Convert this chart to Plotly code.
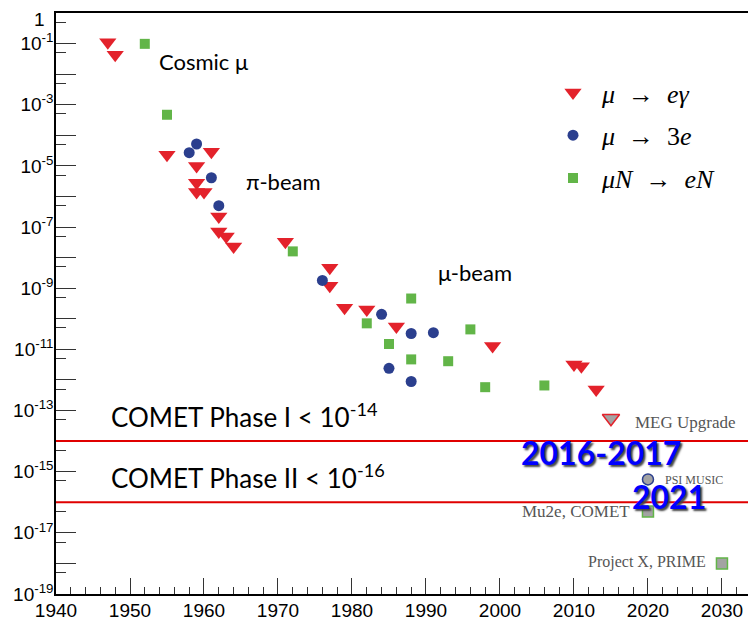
import plotly.graph_objects as go

# ---- data (year, branching-ratio upper limit) ----
meg_year = [1947, 1948, 1955, 1959, 1961, 1959, 1959, 1960, 1962, 1962, 1963, 1964,
            1971, 1977, 1977, 1979, 1982, 1986, 1999, 2010, 2011, 2013]
meg_br = [1.1e-1, 4.3e-2, 2.3e-5, 1.0e-5, 2.9e-5, 2.8e-6, 1.4e-6, 1.4e-6, 2.2e-7, 7.1e-8,
          4.9e-8, 2.3e-8, 3.3e-8, 4.7e-9, 1.2e-9, 2.3e-10, 2.0e-10, 5.6e-11, 1.3e-11,
          3.2e-12, 2.8e-12, 4.9e-13]

mu3e_year = [1958, 1959, 1961, 1962, 1976, 1984, 1988, 1991, 1985, 1988]
mu3e_br = [2.7e-5, 5.2e-5, 4.1e-6, 5.0e-7, 1.8e-9, 1.4e-10, 3.3e-11, 3.5e-11, 2.4e-12, 8.9e-13]

mue_year = [1952, 1955, 1972, 1982, 1985, 1988, 1988, 1993, 1996, 1998, 2006]
mue_br = [9.8e-2, 4.7e-4, 1.6e-8, 7.1e-11, 1.5e-11, 4.6e-10, 4.7e-12, 4.1e-12, 4.5e-11,
          5.8e-13, 6.6e-13]

# future projections
proj_meg_year = [2015]
proj_meg_br = [5.6e-14]
proj_mu3e_year = [2020]
proj_mu3e_br = [5.6e-16]
proj_mue_year = [2020, 2030]
proj_mue_br = [5.0e-17, 1.0e-18]

comet_limits = [1e-14, 1e-16]

decades = list(range(-19, 1))
# the label "1" for the top decade is drawn as an annotation so it is not clipped
ytick_text = ["" if d == 0 else ("10<sup>%d</sup>" % d if d % 2 != 0 else "")
              for d in decades]

RED = "#e3222b"
BLUE = "#2b3f8e"
GREEN = "#62b548"
GRAY = "#a3a3a3"

fig = go.Figure()
fig.add_trace(go.Scatter(x=meg_year, y=meg_br, mode="markers", name="<i>μ</i>  →  <i>eγ</i>",
                         legendgroup="a",
                         marker=dict(symbol="triangle-down", size=15, color=RED)))
fig.add_trace(go.Scatter(x=mu3e_year, y=mu3e_br, mode="markers", name="<i>μ</i>  →  3<i>e</i>",
                         legendgroup="b",
                         marker=dict(symbol="circle", size=11, color=BLUE)))
fig.add_trace(go.Scatter(x=mue_year, y=mue_br, mode="markers", name="<i>μN</i>  →  <i>eN</i>",
                         legendgroup="c",
                         marker=dict(symbol="square", size=10, color=GREEN)))
fig.add_trace(go.Scatter(x=proj_meg_year, y=proj_meg_br, mode="markers", showlegend=False,
                         marker=dict(symbol="triangle-down", size=15, color=GRAY,
                                     line=dict(color=RED, width=1.5))))
fig.add_trace(go.Scatter(x=proj_mu3e_year, y=proj_mu3e_br, mode="markers", showlegend=False,
                         marker=dict(symbol="circle", size=11, color=GRAY,
                                     line=dict(color=BLUE, width=1.5))))
fig.add_trace(go.Scatter(x=proj_mue_year, y=proj_mue_br, mode="markers", showlegend=False,
                         marker=dict(symbol="square", size=11, color=GRAY,
                                     line=dict(color=GREEN, width=1.5))))

for lim in comet_limits:
    fig.add_shape(type="line", xref="paper", x0=0, x1=1, yref="y",
                  y0=lim, y1=lim, layer="above",
                  line=dict(color="#e00000", width=2))

SANS = "Lato"
SERIF = "Liberation Serif"

def ann(text, x, y, size, xanchor="left", family=SANS, color="black", **kw):
    fig.add_annotation(text=text, x=x, y=y, xref="x", yref="y", showarrow=False,
                       xanchor=xanchor, yanchor="middle",
                       font=dict(family=family, size=size, color=color, **kw))

ann("Cosmic μ", 1953.7, -1.57, 22)
ann("π-beam", 1965.4, -5.52, 22)
ann("μ-beam", 1991.4, -8.49, 22)
ann("COMET Phase I &lt; 10<sup>-14</sup>", 1947.2, -13.15, 26)
ann("COMET Phase II &lt; 10<sup>-16</sup>", 1947.2, -15.17, 26)
ann("MEG Upgrade", 2018.0, -13.39, 17, family=SERIF, color="#555555")
ann("PSI MUSIC", 2022.0, -15.28, 12, family=SERIF, color="#555555")
ann("Mu2e, COMET", 2017.8, -16.29, 17, xanchor="right", family=SERIF, color="#555555")
ann("Project X, PRIME", 2028.1, -17.96, 16, xanchor="right", family=SERIF, color="#555555")
ann("2016-2017", 2013.6, -14.36, 32, xanchor="center", color="#0000ff",
    weight="bold", shadow="2px 2px 2px #444")
ann("2021", 2022.8, -15.8, 32, xanchor="center", color="#0000ff",
    weight="bold", shadow="2px 2px 2px #444")

# top decade label
fig.add_annotation(text="1", xref="paper", x=0, xanchor="right", xshift=-9,
                   yref="paper", y=1, yanchor="middle", yshift=-6, showarrow=False,
                   font=dict(family="Liberation Sans", size=19, color="black"))

# the page body has an 8px default margin; size the figure so the plot lands where the
# reference has it
fig.update_layout(
    width=748, height=617,
    margin=dict(l=48, r=0, t=5, b=31),
    paper_bgcolor="white", plot_bgcolor="white",
    font=dict(family="Liberation Sans", size=19, color="black"),
    showlegend=True,
    legend=dict(x=(536 - 48) / 700, y=(586 - 61) / 581, xanchor="left", yanchor="top",
                bgcolor="rgba(0,0,0,0)", itemwidth=48, tracegroupgap=6,
                font=dict(family=SERIF, size=26, color="black")),
    xaxis=dict(range=[1940, 2034.6], tickmode="linear", tick0=1940, dtick=10,
               automargin=False,
               ticks="inside", ticklen=16, tickwidth=1.2, tickcolor="#333",
               showline=True, linecolor="black", linewidth=1.5, mirror=True,
               showgrid=False, zeroline=False, ticklabelstandoff=-2,
               tickfont=dict(family="Liberation Sans", size=19, color="black"),
               minor=dict(dtick=2, ticks="inside", ticklen=7, tickwidth=1.2,
                          tickcolor="#333", showgrid=False)),
    yaxis=dict(type="log", range=[-19, 0], automargin=False,
               tickmode="array", tickvals=[10.0 ** d for d in decades], ticktext=ytick_text,
               ticks="inside", ticklen=20, tickwidth=1.2, tickcolor="#333",
               showline=True, linecolor="black", linewidth=1.5, mirror=False,
               showgrid=False, zeroline=False, ticklabelstandoff=-3,
               tickfont=dict(family="Liberation Sans", size=19, color="black"),
               minor=dict(tickmode="array", tickvals=[5 * 10.0 ** (d - 1) for d in decades],
                          ticks="inside", ticklen=10, tickwidth=1.2, tickcolor="#333",
                          showgrid=False)),
)

fig.write_html("out.html")
